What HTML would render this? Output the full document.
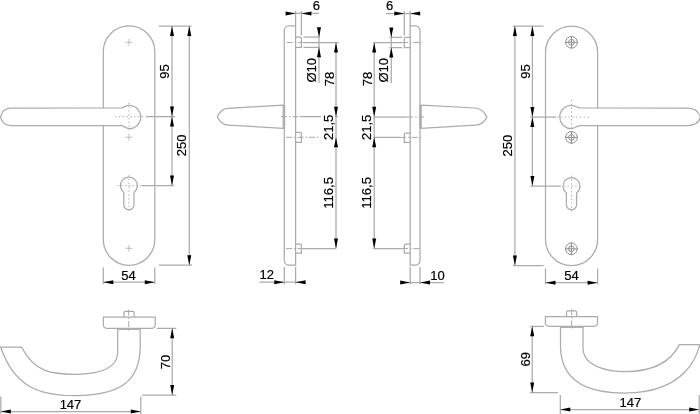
<!DOCTYPE html>
<html><head><meta charset="utf-8">
<style>
html,body{margin:0;padding:0;background:#fff;width:700px;height:414px;overflow:hidden}
svg{display:block;will-change:transform}
text{font-family:"Liberation Sans",sans-serif;font-size:13px;fill:#000;stroke:#000;stroke-width:0.2px}
.l{fill:none;stroke:#ababab;stroke-width:1.25}
.t{fill:none;stroke:#b0b0b0;stroke-width:0.8}
.c{fill:none;stroke:#a8a8a8;stroke-width:1;stroke-dasharray:6 2 1.5 2}
.a{fill:#000;stroke:none}
.d{fill:none;stroke:#b0b0b0;stroke-width:1;stroke-dasharray:1.5 2.3}
.s{fill:none;stroke:#8f8f8f;stroke-width:1}
</style></head><body>
<svg width="700" height="414" viewBox="0 0 700 414">
<rect width="700" height="414" fill="#fff"/>

<!-- ===== VIEW 1 (front left) ===== -->
<g class="l">
  <path d="M103.3,51.7 A25.75,25.75 0 0 1 154.8,51.7 L154.8,239.6 A25.75,25.75 0 0 1 103.3,239.6 Z" fill="#fff"/>
  <!-- keyhole -->
  <path d="M123.8,192.4 A8.5,8.5 0 1 1 134,192.4 V204.7 A5.1,5.1 0 0 1 123.8,204.7 Z"/>
  <!-- handle -->
  <path d="M0.5,117 C1.5,112.5 4.5,108.2 11,108.2 L121.5,107.9 C124.5,107.6 125.5,105.3 129,105.3 A11.6,11.6 0 0 1 129,128.7 C125.5,128.7 124.5,125.9 121.5,125.6 L11,125.6 C4.5,125.6 1.5,121.5 0.5,117 Z" fill="#fff"/>
  <!-- ext lines -->
  <path d="M158.7,26 H191.5 M145.7,116.6 H175 M141.4,185.6 H174 M158.8,265.2 H192 M103.3,267.4 V284 M154.8,267.4 V284"/>
  <!-- dim lines -->
  <path d="M172,26 V185.6 M189.3,26 V265.2 M103.3,282.2 H154.8"/>
</g>
<g class="t">
  <path d="M125.4,42.3 H132.4 M128.9,38.8 V45.8"/>
  <path d="M125.4,137.2 H132.4 M128.9,133.7 V140.7"/>
  <path d="M125.4,248.3 H132.4 M128.9,244.8 V251.8"/>
</g>
<g class="d">
  <path d="M115,116.6 H145 M129,102.7 V130.3 M128.9,175.2 V212 M117.4,185.6 H141"/>
</g>
<g class="a">
  <path d="M172,26 l2,10 h-4z M172,116.6 l2,-10 h-4z M172,116.6 l2,10 h-4z M172,185.6 l2,-10 h-4z"/>
  <path d="M189.3,26 l2,10 h-4z M189.3,265.2 l2,-10 h-4z"/>
  <path d="M103.3,282.2 l10,-2 v4z M154.8,282.2 l-10,-2 v4z"/>
</g>
<text x="128.6" y="279.5" text-anchor="middle">54</text>
<text transform="translate(169,71.6) rotate(-90)" text-anchor="middle">95</text>
<text transform="translate(185.8,145.3) rotate(-90)" text-anchor="middle">250</text>

<!-- ===== VIEW 2 (side left) ===== -->
<g class="l">
  <path d="M295.6,25.8 H289 A4.7,4.7 0 0 0 284.3,30.5 V260.5 A4.7,4.7 0 0 0 289,265.2 H295.6 Z" fill="#fff"/>
  <path d="M295.6,37.2 H300.2 A1.2,1.2 0 0 1 301.4,38.4 V47.3 H295.6"/>
  <path d="M295.6,132.4 H300.2 A1.2,1.2 0 0 1 301.4,133.6 V142.4 H295.6"/>
  <path d="M295.6,244 H300.2 A1.2,1.2 0 0 1 301.4,245.2 V253.2 H295.6"/>
  <path d="M283.2,105.1 L227.5,108.3 C223,108.5 219.6,111.8 217.3,116.8 C219.6,121.6 223,124.9 227.5,125.1 L283.2,128.3 Z" fill="#fff"/>
  <path d="M284.6,105.1 V128.3"/>
  <!-- ext -->
  <path d="M295.6,25.8 V11 M301.4,35.2 V11 M303.5,37.2 H320 M303.5,47.3 H320 M284.3,267 V284.3 M295.6,267 V284.3"/>
  <path d="M286,13.4 H319 M319,28 V83 M259.4,282.2 H305 M336,42.5 V248.6"/>
</g>
<g class="c">
  <path d="M286.7,42.5 H303.5 M281,116.7 H300 M286,137.3 H321 M286,248.6 H303"/>
</g>
<g class="l">
  <path d="M303.5,42.5 H338.5 M300,116.7 H321 M334.8,116.7 H338 M303,248.6 H336"/>
</g>
<g class="a">
  <path d="M295.6,13.4 l-10,-2 v4z M301.4,13.4 l10,-2 v4z"/>
  <path d="M319,37.2 l-2,-10 h4z M319,47.3 l-2,10 h4z"/>
  <path d="M336,42.5 l2,10 h-4z M336,116.7 l2,-10 h-4z M336,137.3 l2,10 h-4z M336,248.6 l2,-10 h-4z"/>
  <path d="M284.3,282.2 l-10,-2 v4z M295.6,282.2 l10,-2 v4z"/>
</g>
<text x="316.4" y="10.2" text-anchor="middle">6</text>
<text x="266.7" y="279" text-anchor="middle">12</text>
<text transform="translate(315.9,70.3) rotate(-90)" text-anchor="middle">Ø10</text>
<text transform="translate(333.6,79) rotate(-90)" text-anchor="middle">78</text>
<text transform="translate(333.3,127.3) rotate(-90)" text-anchor="middle">21,5</text>
<text transform="translate(333.3,192.9) rotate(-90)" text-anchor="middle">116,5</text>

<!-- ===== VIEW 3 (side right) ===== -->
<g class="l">
  <path d="M410.2,25.8 H415.2 A4.8,4.8 0 0 1 420,30.6 V260.4 A4.8,4.8 0 0 1 415.2,265.2 H410.2 Z" fill="#fff"/>
  <path d="M410.2,37.4 H405.5 A1.2,1.2 0 0 0 404.3,38.6 V47.5 H410.2"/>
  <path d="M410.2,133 H405.5 A1.2,1.2 0 0 0 404.3,134.2 V142.4 H410.2"/>
  <path d="M410.2,244 H405.5 A1.2,1.2 0 0 0 404.3,245.2 V253.2 H410.2"/>
  <path d="M421.2,105.1 L475,108 C480,108.2 484.6,112 486.9,117 C484.6,122 480,125 475,125.2 L421.2,128.3 Z" fill="#fff"/>
  <path d="M420,105.1 V128.3"/>
  <path d="M410.2,25.8 V11 M404.3,35.4 V11 M402.2,37.4 H389.5 M402.2,47.5 H389.5 M410.2,267 V284.3 M420,267 V284.3"/>
  <path d="M386,13.5 H420 M391.3,28 V83 M400.4,282.5 H443.9 M374.2,42.5 V248.6"/>
</g>
<g class="c">
  <path d="M402,42.5 H422.3 M407,117 H424 M400,137.4 H422 M402,248.6 H421.4"/>
</g>
<g class="l">
  <path d="M373.2,42.5 H402 M373.5,117 H407 M373.5,137.4 H400 M373.2,248.6 H402"/>
</g>
<g class="a">
  <path d="M404.3,13.5 l-10,-2 v4z M410.2,13.5 l10,-2 v4z"/>
  <path d="M391.3,37.4 l-2,-10 h4z M391.3,47.5 l-2,10 h4z"/>
  <path d="M374.2,42.5 l2,10 h-4z M374.2,116.7 l2,-10 h-4z M374.2,137.3 l2,10 h-4z M374.2,248.6 l2,-10 h-4z"/>
  <path d="M410.2,282.5 l-10,-2 v4z M420,282.5 l10,-2 v4z"/>
</g>
<text x="389.6" y="10.4" text-anchor="middle">6</text>
<text x="437.4" y="279.5" text-anchor="middle">10</text>
<text transform="translate(388.2,70.3) rotate(-90)" text-anchor="middle">Ø10</text>
<text transform="translate(371.6,79) rotate(-90)" text-anchor="middle">78</text>
<text transform="translate(371.3,127.3) rotate(-90)" text-anchor="middle">21,5</text>
<text transform="translate(371.3,192.9) rotate(-90)" text-anchor="middle">116,5</text>

<!-- ===== VIEW 4 (front right) ===== -->
<g class="l">
  <path d="M545.5,52.2 A26.05,26.05 0 0 1 597.6,52.2 L597.6,239.6 A26.05,26.05 0 0 1 545.5,239.6 Z" fill="#fff"/>
  <path d="M566.4,192.9 A8.5,8.5 0 1 1 576.6,192.9 V204.7 A5.1,5.1 0 0 1 566.4,204.7 Z"/>
  <path d="M700.5,117.3 C699,112.5 695,108.2 688,108.2 L580,107.9 C576,107.6 575,105.3 571.5,105.3 A11.7,11.7 0 0 0 571.5,128.7 C575,128.7 576,126 580,125.7 L688,125.6 C695,125.6 699,122 700.5,117.3 Z" fill="#fff"/>
  <path d="M512.9,26 H543.5 M530,117.1 H556 M530.4,186.1 H560 M513,265.5 H543.5 M545.5,268.6 V284.5 M597.6,268.6 V284.5"/>
  <path d="M514.9,26 V265.5 M532.4,26 V186.1 M545.5,282.7 H597.6"/>
</g>
<g class="s">
  <circle cx="571.5" cy="42.3" r="5.8"/><circle cx="571.5" cy="42.3" r="2.9"/>
  <path d="M565,42.3 H578 M571.5,35.8 V48.8"/>
  <circle cx="571.5" cy="137.4" r="5.8"/><circle cx="571.5" cy="137.4" r="2.9"/>
  <path d="M565,137.4 H578 M571.5,130.9 V143.9"/>
  <circle cx="571.4" cy="248.8" r="5.8"/><circle cx="571.4" cy="248.8" r="2.9"/>
  <path d="M564.9,248.8 H577.9 M571.4,242.3 V255.3"/>
</g>
<g class="d">
  <path d="M557,117.1 H590 M571.5,100 V129.7 M571.5,175.7 V212.5 M560,186.1 H583"/>
</g>
<g class="a">
  <path d="M514.9,26 l2,10 h-4z M514.9,265.5 l2,-10 h-4z"/>
  <path d="M532.4,26 l2,10 h-4z M532.4,117.1 l2,-10 h-4z M532.4,117.1 l2,10 h-4z M532.4,186.1 l2,-10 h-4z"/>
  <path d="M545.5,282.7 l10,-2 v4z M597.6,282.7 l-10,-2 v4z"/>
</g>
<text x="571.5" y="279.9" text-anchor="middle">54</text>
<text transform="translate(529.8,71.6) rotate(-90)" text-anchor="middle">95</text>
<text transform="translate(512.4,145.7) rotate(-90)" text-anchor="middle">250</text>

<!-- ===== BOTTOM LEFT ===== -->
<g class="l">
  <path d="M123.9,317 V312.8 A1.5,1.5 0 0 1 125.4,311.3 H132.7 A1.5,1.5 0 0 1 134.2,312.8 V317"/>
  <path d="M103.4,317 H155.2 V325.1 A3.2,3.2 0 0 1 152,328.3 H106.6 A3.2,3.2 0 0 1 103.4,325.1 Z"/>
  <path d="M117.6,329.3 H140.6"/>
  <path d="M140.2,328.3 L140.2,346 C140.2,381.5 120.1,395.6 75,395.6 C39.6,395.6 14.6,387.3 0.7,347.2 H21.7 C34.7,373 53,374.3 75,374.3 C120,374.3 117.7,354.9 117.7,350 L117.7,328.3"/>
  <path d="M156.7,328.3 H176.3 M141.9,395.1 H176.3 M0.8,396.4 V414 M140.8,396.4 V414"/>
  <path d="M172.2,328.3 V395.1 M0.8,411.6 H140.8"/>
</g>
<g class="c"><path d="M128.7,309.6 V331"/></g>
<g class="a">
  <path d="M172.2,328.3 l2,10 h-4z M172.2,395.1 l2,-10 h-4z"/>
  <path d="M0.8,411.6 l10,-2 v4z M140.8,411.6 l-10,-2 v4z"/>
</g>
<text transform="translate(169.5,362) rotate(-90)" text-anchor="middle">70</text>
<text x="70.5" y="409" text-anchor="middle">147</text>

<!-- ===== BOTTOM RIGHT ===== -->
<g class="l">
  <path d="M566.5,316.7 V312.4 A1.5,1.5 0 0 1 568,310.9 H575.1 A1.5,1.5 0 0 1 576.6,312.4 V316.7"/>
  <path d="M545.4,316.7 H597.5 V323.1 A3.2,3.2 0 0 1 594.3,326.3 H548.6 A3.2,3.2 0 0 1 545.4,323.1 Z"/>
  <path d="M560.1,327.3 H583.2"/>
  <path d="M560.5,326.3 L560.5,346 C560.5,393.9 611.7,393 625,393 C688.5,393 698,351.4 699.8,344.6 H679.4 C669.3,364.8 648.3,371.6 625,371.6 C612.2,371.6 583,368.1 583,348 L583,326.3"/>
  <path d="M530.3,326.3 H543.8 M530,392.5 H558 M560.3,395 V414 M699.2,395 V414"/>
  <path d="M532.2,326.3 V392.5 M560.3,409.6 H699.2"/>
</g>
<g class="c"><path d="M571.7,309 V329"/></g>
<g class="a">
  <path d="M532.2,326.3 l2,10 h-4z M532.2,392.5 l2,-10 h-4z"/>
  <path d="M560.3,409.6 l10,-2 v4z M699.2,409.6 l-10,-2 v4z"/>
</g>
<text transform="translate(529.5,359.2) rotate(-90)" text-anchor="middle">69</text>
<text x="630.4" y="406.8" text-anchor="middle">147</text>
</svg>
</body></html>
